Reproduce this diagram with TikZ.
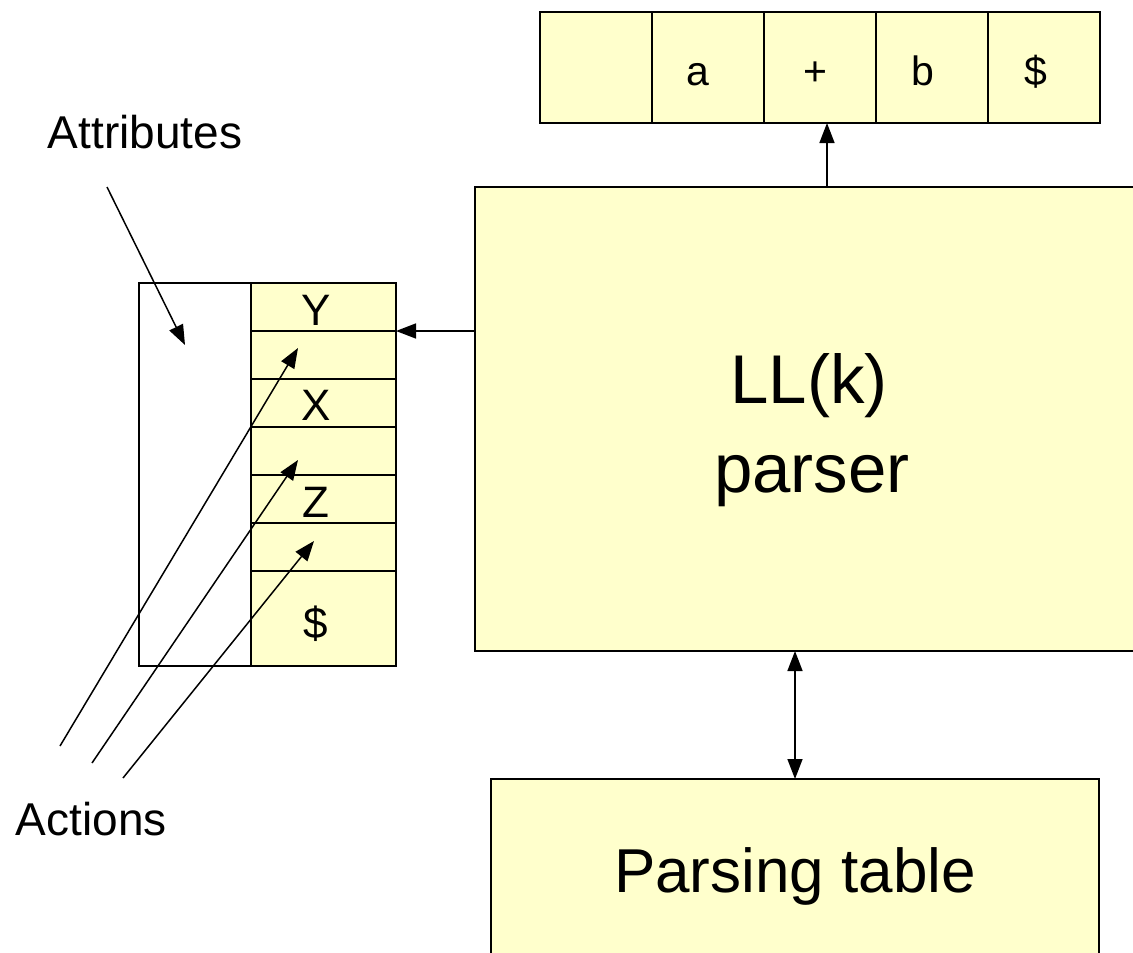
\documentclass[tikz,border=0pt]{standalone}
\usepackage{fontspec}
\setmainfont{Liberation Sans}
\usetikzlibrary{arrows.meta}
\definecolor{paleyellow}{HTML}{FFFFCC}
\begin{document}
\begin{tikzpicture}[x=1pt,y=-1pt,line width=1.5pt,
  box/.style={draw=black,fill=paleyellow,anchor=north west,inner sep=0pt,outer sep=0pt},
  plainbox/.style={draw=black,anchor=north west,inner sep=0pt,outer sep=0pt},
  arr/.style={-{Triangle[length=20pt,width=15pt]}},
  biarr/.style={{Triangle[length=20pt,width=15pt]}-{Triangle[length=20pt,width=15pt]}},
  sym/.style={anchor=base,inner sep=0pt,font=\fontsize{44}{50}\selectfont},
  tapesym/.style={anchor=base,inner sep=0pt,font=\fontsize{41}{46}\selectfont},
  lbl/.style={anchor=base west,inner sep=0pt,font=\fontsize{46}{52}\selectfont}]
\useasboundingbox (0,0) rectangle (1133,953);

% input tape
\foreach \i in {0,...,4}
  \node[box,minimum width=112pt,minimum height=111pt] (tape\i) at (540+112*\i,12) {};
\node[tapesym] (ta) at (698,85) {a};
\node[tapesym] (tplus) at (815,85) {+};
\node[tapesym] (tb) at (923,85) {b};
\node[tapesym] (tend) at (1036,85) {\$};

% parser
\node[box,minimum width=700pt,minimum height=464pt] (parser) at (475,187) {};
\node[anchor=base,inner sep=0pt,font=\fontsize{69}{80}\selectfont] (llk) at (809,403) {LL(k)};
\node[anchor=base,inner sep=0pt,font=\fontsize{69}{80}\selectfont] (pword) at (812,492) {parser};

% parsing table
\node[box,minimum width=608pt,minimum height=200pt] (ptable) at (491,779) {};
\node[anchor=base,inner sep=0pt,font=\fontsize{62}{72}\selectfont] (ptext) at (795,892) {Parsing table};

% stack: attribute column and symbol column
\node[plainbox,minimum width=112pt,minimum height=383pt] (attrcol) at (139,283) {};
\foreach \i in {1,...,6}
  \node[box,minimum width=145pt,minimum height=48pt] (s\i) at (251,283+48*\i-48) {};
\node[box,minimum width=145pt,minimum height=95pt] (s7) at (251,571) {};
\node[sym] (sy) at (316,325) {Y};
\node[sym] (sx) at (316,420) {X};
\node[sym] (sz) at (316,517) {Z};
\node[sym] (sd) at (316,638) {\$};

% parser connections
\draw[arr] ([xshift=352pt]parser.north west) -- ([xshift=352pt]parser.north west |- tape2.south);
\draw[arr] (parser.west |- s1.south east) -- (s1.south east);
\draw[biarr] ([xshift=320pt]parser.south west |- ptable.north) -- ([xshift=320pt]parser.south west);

% labels and pointers
\node[lbl] (attrlbl) at (47,148) {Attributes};
\node[lbl] (actlbl) at (15,835) {Actions};
\coordinate (atail) at (107,187);
\coordinate (ahead) at (185,345);
\draw[arr] (atail) -- (ahead);
\coordinate (t1) at (60,746);
\coordinate (t2) at (92,763);
\coordinate (t3) at (123,778);
\coordinate (h1) at (298,348);
\coordinate (h2) at (298,460);
\coordinate (h3) at (314,541);
\draw[arr] (t1) -- (h1);
\draw[arr] (t2) -- (h2);
\draw[arr] (t3) -- (h3);
\end{tikzpicture}
\end{document}
